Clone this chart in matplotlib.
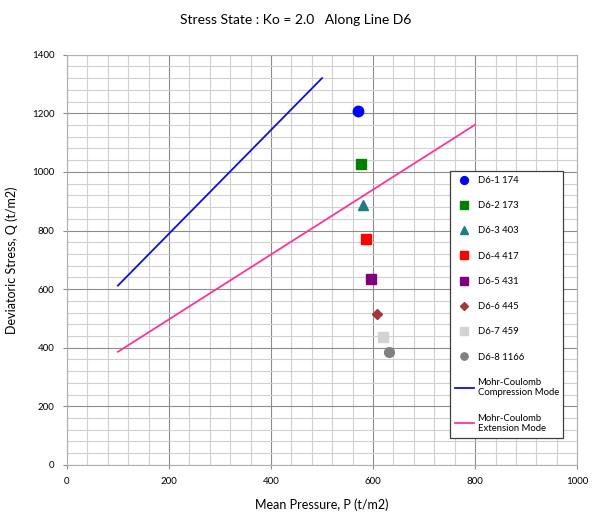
import matplotlib.pyplot as plt

plt.rcParams['font.family'] = ['Lato', 'DejaVu Sans']

# test points (mean pressure P, deviatoric stress Q)
labels = ['D6-1 174', 'D6-2 173', 'D6-3 403', 'D6-4 417',
          'D6-5 431', 'D6-6 445', 'D6-7 459', 'D6-8 1166']
p_vals = [570, 576, 580, 586, 596, 608, 620, 631]
q_vals = [1209, 1028, 888, 772, 635, 516, 437, 386]
markers = ['o', 's', '^', 's', 's', 'D', 's', 'o']
colors = ['#0000FF', '#008000', '#1A7F80', '#FF0000',
          '#800080', '#A33838', '#D3D3D3', '#808080']
sizes = [7.5, 7, 7, 7, 7, 5, 7, 7]

# Mohr-Coulomb failure lines
comp_p = [100, 500]
comp_q = [612, 1320]
ext_p = [100, 800]
ext_q = [386, 1161]

fig = plt.figure(figsize=(5.92, 5.16), dpi=100)
ax = fig.add_axes([0.113, 0.099, 0.862, 0.795])

for p, q, m, c, s, lab in zip(p_vals, q_vals, markers, colors, sizes, labels):
    ax.plot([p], [q], linestyle='none', marker=m, color=c, markersize=s,
            label=lab, zorder=3)

ax.plot(comp_p, comp_q, color='#1010D0', lw=1.3,
        label='Mohr-Coulomb\nCompression Mode', zorder=2)
ax.plot(ext_p, ext_q, color='#FF3399', lw=1.3,
        label='Mohr-Coulomb\nExtension Mode', zorder=2)

ax.set_xlim(0, 1000)
ax.set_ylim(0, 1400)
ax.set_xticks(range(0, 1001, 200))
ax.set_yticks(range(0, 1401, 200))
ax.set_xticks(range(0, 1001, 40), minor=True)
ax.set_yticks(range(0, 1401, 40), minor=True)
ax.grid(which='major', color='#8C8C8C', lw=0.8)
ax.grid(which='minor', color='#D0D0D0', lw=0.8)
ax.set_axisbelow(True)
ax.tick_params(which='major', labelsize=7, length=3, color='#8C8C8C', pad=6)
ax.tick_params(which='minor', length=0)
for sp in ax.spines.values():
    sp.set_color('#B0B0B0')

ax.set_xlabel('Mean Pressure, P (t/m2)', fontsize=9, labelpad=9)
ax.set_ylabel('Deviatoric Stress, Q (t/m2)', fontsize=9, labelpad=10)
fig.suptitle('Stress State : Ko = 2.0   Along Line D6', fontsize=10,
             x=0.5, y=0.972)

leg = ax.legend(loc='upper left', bbox_to_anchor=(0.751, 0.716),
                fontsize=6.8, labelspacing=1.72, markerscale=0.75,
                handlelength=2.0, handletextpad=0.4, borderpad=0.5,
                borderaxespad=0.0, fancybox=False, framealpha=1)
leg.get_frame().set_edgecolor('#404040')
leg.get_frame().set_linewidth(0.9)

fig.savefig('out.png', dpi=100)
